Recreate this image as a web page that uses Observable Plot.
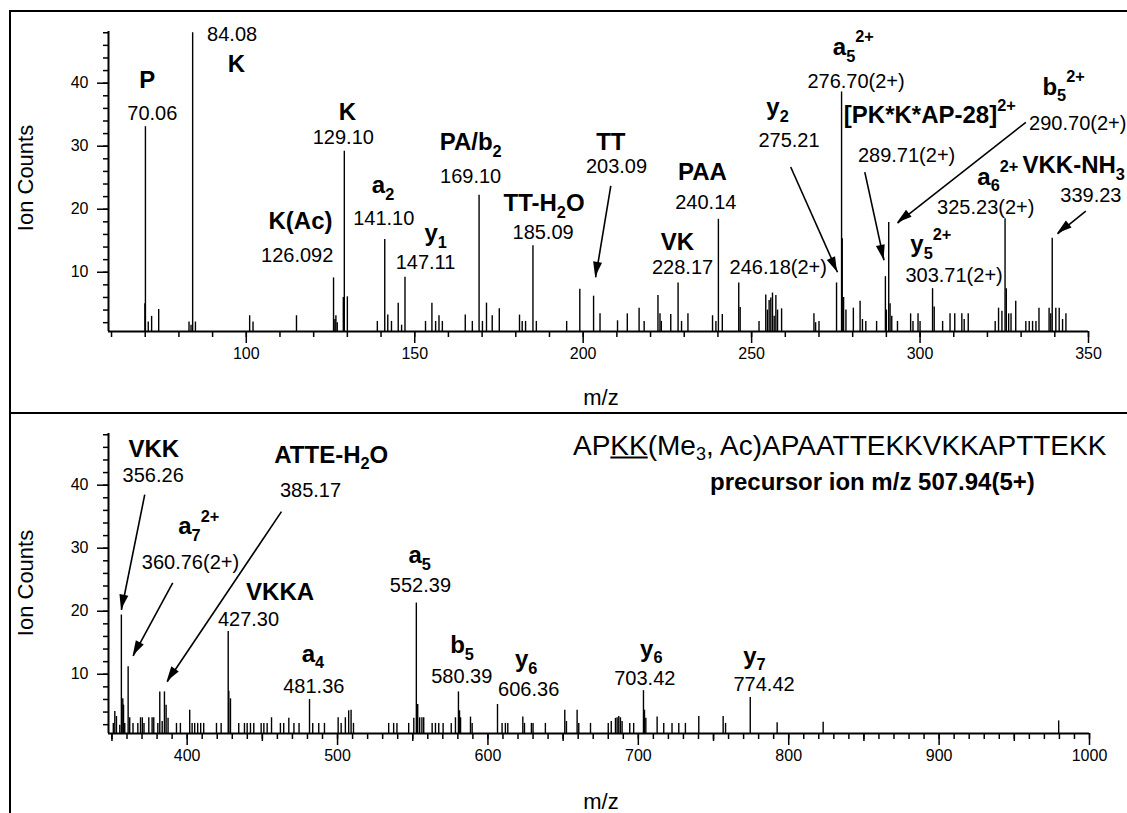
<!DOCTYPE html>
<html><head><meta charset="utf-8">
<script src="https://cdn.jsdelivr.net/npm/d3@7"></script>
<script src="https://cdn.jsdelivr.net/npm/@observablehq/plot@0.6"></script>
<style>
body{margin:0;background:#fff;}
#wrap{position:relative;width:1127px;height:813px;overflow:hidden;background:#fff;font-family:"Liberation Sans",Arial,Helvetica,sans-serif;color:#000;}
.panel{position:absolute;left:0;}
.hline{position:absolute;background:#000;height:2px;z-index:3;}
.vline{position:absolute;background:#000;width:2px;z-index:3;}
.axt{position:absolute;font-size:22px;white-space:nowrap;transform:translate(-50%,-50%);}
.rot{transform:translate(-50%,-50%) rotate(-90deg);}
.ttl{position:absolute;white-space:nowrap;transform:translate(0,-50%);}
</style></head><body>
<div id="wrap">
  <div id="top" class="panel" style="top:0"></div>
  <div id="bot" class="panel" style="top:412px"></div>
  <div class="hline" style="left:9px;top:10px;width:1118px"></div>
  <div class="vline" style="left:9px;top:10px;height:803px"></div>
  <div class="hline" style="left:9px;top:412px;width:1118px"></div>
  <div class="axt rot" style="left:26px;top:178px">Ion Counts</div>
  <div class="axt rot" style="left:26px;top:583px">Ion Counts</div>
  <div class="axt" style="left:601px;top:398px">m/z</div>
  <div class="axt" style="left:601px;top:802px">m/z</div>
  <div class="ttl" style="left:573px;top:447px;font-size:28px">AP<u>KK</u>(Me<sub style="font-size:18px;vertical-align:-5px">3</sub>, Ac)APAATTEKKVKKAPTTEKK</div>
  <div class="ttl" style="left:710px;top:482px;font-size:24px;font-weight:bold">precursor ion m/z 507.94(5+)</div>
</div>
<script>
// ---------- data: top spectrum (m/z 60-350) ----------
const topMz = [69.9,70.06,70.9,71.9,74.0,83.0,83.6,84.08,84.9,101.0,102.0,114.9,125.9,126.3,126.6,127.0,128.8,129.10,130.0,138.9,
  141.10,142.0,143.1,145.1,146.1,147.11,153.2,155.1,156.2,157.2,158.2,165.0,167.1,169.10,170.1,171.3,173.0,175.1,181.1,181.9,
  182.9,185.09,186.1,195.1,199.0,203.09,205.0,210.2,213.1,216.6,218.1,222.2,222.8,223.2,226.0,228.17,229.2,231.1,238.4,239.4,
  240.14,241.3,246.18,246.6,252.2,254.2,254.7,255.2,255.7,256.2,256.7,257.2,257.7,258.9,268.5,269.0,270.0,275.21,276.70,276.9,
  277.3,278.0,280.2,282.2,282.9,283.9,287.1,289.71,290.0,290.70,291.1,291.6,293.3,297.2,297.9,299.4,300.0,303.71,304.2,306.7,
  308.9,310.3,312.4,313.1,314.3,322.3,323.3,324.3,325.23,325.6,326.3,327.0,328.4,331.4,332.4,333.4,334.4,335.3,338.3,338.8,
  339.23,340.3,341.3,342.3,343.3];
const topCounts = [5.0,33.1,2.1,3.0,4.1,2.1,1.6,48.0,2.1,3.1,2.1,3.1,9.1,2.5,3.1,2.0,6.0,29.2,6.1,2.2,
  15.2,3.2,2.2,5.1,1.6,9.2,2.2,5.1,2.2,3.1,2.2,3.2,2.2,22.2,2.2,5.1,3.1,4.2,3.2,2.2,
  2.2,14.2,2.2,2.2,7.3,6.2,3.4,2.3,3.4,4.3,2.2,6.3,3.4,2.2,3.3,8.3,2.2,3.4,3.1,2.2,
  18.4,3.3,8.3,4.4,2.2,6.4,4.0,5.5,5.9,6.7,3.0,6.3,4.0,4.2,3.4,2.0,2.2,8.3,38.6,15.3,
  6.0,4.0,4.3,5.4,2.5,2.2,2.2,9.3,4.0,17.9,5.0,3.0,2.2,3.4,2.2,3.4,2.2,7.4,4.5,2.2,
  3.4,3.4,3.4,2.5,3.4,2.2,4.3,3.8,18.5,7.4,3.4,3.4,5.4,2.2,2.2,2.2,2.2,4.3,4.3,3.4,
  15.4,4.3,4.3,2.5,3.4];

// ---------- data: bottom spectrum (m/z 350-1000) ----------
const botMz = [350.9,351.9,353.0,355.2,356.26,357.2,357.7,358.5,360.76,361.8,364.0,367.2,369.0,370.2,371.3,374.5,376.7,377.8,380.5,381.8,
  383.4,384.9,386.0,387.3,392.9,395.5,401.7,403.3,405.0,407.0,409.0,411.0,419.5,422.6,427.30,427.7,428.8,434.3,438.1,439.9,
  442.1,444.3,449.2,451.0,453.2,456.1,462.0,464.2,467.6,471.0,474.4,481.36,483.5,487.5,491.3,500.4,502.4,505.2,507.4,509.0,
  510.6,534.0,537.3,539.5,547.3,550.7,552.39,553.3,554.6,556.1,557.3,562.9,565.1,567.3,570.2,575.6,578.4,580.39,581.1,581.8,
  588.4,589.5,606.36,609.4,611.6,613.2,623.2,624.3,628.9,630.0,638.2,651.1,652.2,659.3,660.4,668.2,680.0,682.0,684.8,685.9,
  687.0,688.1,689.2,694.3,696.9,703.42,704.1,705.0,712.5,716.9,722.4,726.9,731.3,740.2,756.4,758.0,774.42,792.3,822.9,979.5];
const botCounts = [2.2,4.1,3.3,1.9,19.4,6.1,5.1,2.2,11.2,3.1,2.2,2.2,3.1,3.1,2.2,3.1,3.1,3.1,2.2,7.2,
  2.5,7.2,5.1,3.0,2.2,2.2,4.3,2.2,2.2,2.2,2.2,2.2,2.2,2.2,16.8,7.3,6.1,2.2,2.2,2.2,
  2.2,2.2,2.2,2.2,2.2,3.1,2.2,2.2,3.0,2.2,2.2,6.0,2.2,2.2,2.2,3.1,2.2,3.1,4.2,4.3,
  2.2,2.2,2.2,2.2,2.2,3.0,21.3,5.2,3.1,3.1,3.1,2.2,2.2,2.2,2.2,2.2,3.1,7.2,4.2,3.1,
  3.2,2.2,5.2,2.2,2.2,2.2,3.2,2.2,2.2,2.2,2.2,4.3,2.5,4.3,2.2,2.2,2.2,2.5,3.0,3.1,
  3.3,3.1,2.5,2.2,2.2,7.4,4.3,3.0,3.2,2.2,2.2,2.2,2.2,3.3,3.3,2.2,6.3,2.3,2.4,2.6];

// ---------- axes ----------
const topXDomain = [59.1, 350];
const botXDomain = [347.7, 1000];
const yDomain = [0.6, 48.2];
const topXMajor = [100, 150, 200, 250, 300, 350];
const topXMinor = d3.range(60, 351, 10);
const botXMajor = [400, 500, 600, 700, 800, 900, 1000];
const botXMid = [350, 450, 550, 650, 750, 850, 950];
const botXMinor = d3.range(350, 1001, 10);
const yMajor = [10, 20, 30, 40];
const yMinor = d3.range(2, 49, 2);

// ---------- annotations: [text, m/z, counts] ----------
const topNames = [["P",70.6,40.5],["K",97.1,43.0],["K",130.0,35.4],["K(Ac)",116.1,18.1],["a_{2}",140.6,23.8],
  ["y_{1}",156.2,16.1],["PA/b_{2}",166.6,30.6],["TT-H_{2}O",188.4,20.9],["TT",208.2,30.6],["PAA",235.4,25.9],
  ["VK",228.0,14.8],["y_{2}",257.7,36.2],["a_{5}^{2+}",280.2,45.7],["[PK*K*AP-28]^{2+}",302.9,34.9],
  ["b_{5}^{2+}",342.6,39.4],["a_{6}^{2+}",323.1,25.1],["VKK-NH_{3}",345.6,26.9],["y_{5}^{2+}",303.2,14.4]];
const topNums = [["70.06",72.1,35.1],["84.08",95.8,47.7],["129.10",128.8,31.4],["126.092",115.1,12.65],
  ["141.10",140.8,18.5],["147.11",153.2,11.6],["169.10",166.6,25.1],["185.09",188.1,16.3],["203.09",209.9,26.7],
  ["240.14",236.4,21.1],["228.17",229.5,10.8],["246.18(2+)",257.9,10.8],["275.21",261.1,30.9],
  ["276.70(2+)",281.0,40.3],["289.71(2+)",296.0,28.5],["290.70(2+)",346.8,33.6],["325.23(2+)",319.5,20.3],
  ["339.23",350.7,22.2],["303.71(2+)",310.1,9.5]];
const topArrows = [[208.2,23.7,203.7,9.2],[261.6,26.7,275.5,10.0],[283.6,25.9,289.3,11.9],[331.4,33.8,293.3,17.8],[349.2,19.7,340.8,16.1]];

const botNames = [["VKK",377.8,45.7],["a_{7}^{2+}",407.7,33.4],["ATTE-H_{2}O",495.8,44.8],["VKKA",461.8,23.0],
  ["a_{4}",483.6,13.2],["a_{5}",554.6,28.9],["b_{5}",582.8,14.6],["y_{6}",625.4,12.4],["y_{6}",708.6,14.0],["y_{7}",777.2,12.9]];
const botNums = [["356.26",377.4,41.6],["360.76(2+)",402.2,27.7],["385.17",482.0,39.2],["427.30",440.8,18.6],
  ["481.36",484.2,8.0],["552.39",555.1,24.1],["580.39",582.6,9.6],["606.36",627.1,7.5],["703.42",704.3,9.3],["774.42",783.6,8.3]];
const botArrows = [[371.8,38.5,356.3,20.2],[390.4,24.5,364.1,12.9],[462.7,35.8,386.7,8.8]];

const FONT = "Liberation Sans, Arial, Helvetica, sans-serif";
const asObj = a => a.map(([t, x, y]) => ({t, x, y}));
const asArr = a => a.map(([x1, y1, x2, y2]) => ({x1, y1, x2, y2}));

function richify(svg) {
  svg.querySelectorAll("text").forEach(t => {
    const s = t.textContent;
    if (!/[_^]\{/.test(s)) return;
    while (t.firstChild) t.removeChild(t.firstChild);
    let cur = 0;
    s.split(/([_^]\{[^}]*\})/).forEach(part => {
      if (!part) return;
      let txt = part, off = 0, size = 1;
      if (part.startsWith("_{")) { txt = part.slice(2, -1); off = 0.28; size = 0.68; }
      else if (part.startsWith("^{")) { txt = part.slice(2, -1); off = -0.52; size = 0.68; }
      const ts = document.createElementNS("http://www.w3.org/2000/svg", "tspan");
      ts.textContent = txt;
      if (size !== 1) ts.setAttribute("font-size", (size * 100) + "%");
      const d = off - cur;
      if (d) ts.setAttribute("dy", (d / size).toFixed(3) + "em");
      cur = off;
      t.appendChild(ts);
    });
  });
}

function addHeads(svg, arrows) {
  const sx = svg.scale("x"), sy = svg.scale("y");
  const L = 15, W = 4.5;
  const g = d3.select(svg).append("g").attr("fill", "#000");
  arrows.forEach(a => {
    const x1 = sx.apply(a.x1), y1 = sy.apply(a.y1), x2 = sx.apply(a.x2), y2 = sy.apply(a.y2);
    const len = Math.hypot(x2 - x1, y2 - y1), ux = (x2 - x1) / len, uy = (y2 - y1) / len;
    const bx = x2 - ux * L, by = y2 - uy * L;
    g.append("polygon").attr("points", [[x2, y2], [bx - uy * W, by + ux * W], [bx + uy * W, by - ux * W]].map(p => p.join(",")).join(" "));
  });
}

function spectrum({mz, counts, xDomain, height, mTop, mBottom, mRight, xMajor, xMid, xMinor, names, nums, arrows}) {
  const peaks = mz.map((m, i) => ({mz: m, c: counts[i]}));
  const marks = [
    Plot.axisX({ticks: xMinor, tickSize: 6, tickFormat: () => "", label: null, strokeWidth: 1.5}),
    Plot.axisY({ticks: yMinor, tickSize: 5, tickFormat: () => "", label: null, strokeWidth: 1.5}),
    Plot.axisY({ticks: yMajor, tickSize: 11, tickPadding: 9, fontSize: 16, tickFormat: d => String(d), label: null, strokeWidth: 1.5}),
  ];
  if (xMid) marks.push(Plot.axisX({ticks: xMid, tickSize: 8, tickFormat: () => "", label: null, strokeWidth: 1.5}));
  marks.push(
    Plot.axisX({ticks: xMajor, tickSize: 12, tickPadding: 4, fontSize: 16, tickFormat: d => String(d), label: null, strokeWidth: 1.5}),
    Plot.ruleX(peaks, {x: "mz", y1: yDomain[0], y2: "c", stroke: "#000", strokeWidth: 1.4}),
    Plot.ruleY([yDomain[0]], {stroke: "#000", strokeWidth: 2.2}),
    Plot.ruleX([xDomain[0]], {stroke: "#000", strokeWidth: 2}),
    Plot.link(asArr(arrows), {x1: "x1", y1: "y1", x2: "x2", y2: "y2", stroke: "#000", strokeWidth: 1.6}),
    Plot.text(asObj(names), {x: "x", y: "y", text: "t", fontSize: 24, fontWeight: "bold", fill: "#000"}),
    Plot.text(asObj(nums), {x: "x", y: "y", text: "t", fontSize: 20, fill: "#000"})
  );
  const svg = Plot.plot({
    width: 1127, height,
    marginLeft: 108, marginRight: mRight, marginTop: mTop, marginBottom: mBottom,
    x: {domain: xDomain}, y: {domain: yDomain},
    style: {fontFamily: FONT, background: "transparent", color: "#000", overflow: "visible"},
    marks
  });
  addHeads(svg, asArr(arrows));
  richify(svg);
  return svg;
}

document.getElementById("top").appendChild(spectrum({
  mz: topMz, counts: topCounts, xDomain: topXDomain, height: 412, mTop: 31, mBottom: 81, mRight: 39,
  xMajor: topXMajor, xMid: null, xMinor: topXMinor, names: topNames, nums: topNums, arrows: topArrows
}));
document.getElementById("bot").appendChild(spectrum({
  mz: botMz, counts: botCounts, xDomain: botXDomain, height: 401, mTop: 21, mBottom: 80, mRight: 38,
  xMajor: botXMajor, xMid: botXMid, xMinor: botXMinor, names: botNames, nums: botNums, arrows: botArrows
}));
</script>
</body></html>
